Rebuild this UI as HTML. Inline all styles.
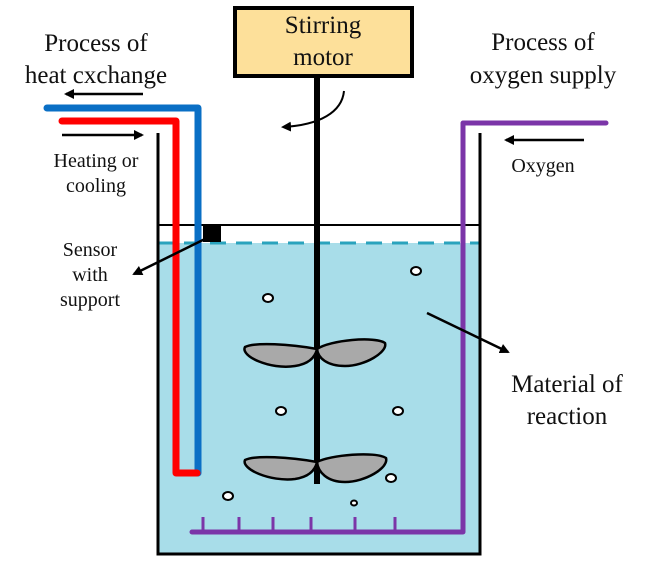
<!DOCTYPE html>
<html><head><meta charset="utf-8"><style>
html,body{margin:0;padding:0;background:#fff;}
svg{display:block;}
text{font-family:"Liberation Serif",serif;fill:#111;}
</style></head><body>
<svg width="647" height="564" viewBox="0 0 647 564" xmlns="http://www.w3.org/2000/svg">
<defs>
<marker id="ah" markerWidth="10" markerHeight="10" refX="8" refY="5" orient="auto" markerUnits="userSpaceOnUse">
<path d="M0,0 L10,5 L0,10 z" fill="#000"/></marker>
</defs>
<rect x="158" y="243" width="322" height="311" fill="#a8dde9"/>
<line x1="158" y1="243" x2="480" y2="243" stroke="#2aa3bd" stroke-width="3" stroke-dasharray="16,10"/>
<path d="M158,133 V554 H480 V133" fill="none" stroke="#000" stroke-width="3"/>
<line x1="158" y1="225" x2="480" y2="225" stroke="#000" stroke-width="2"/>
<path d="M47,108 H198 V473" fill="none" stroke="#0a6fc5" stroke-width="7" stroke-linecap="round" stroke-linejoin="round"/>
<path d="M62,121 H176 V473 H197" fill="none" stroke="#f00" stroke-width="7" stroke-linecap="round" stroke-linejoin="round"/>
<path d="M606,123 H463 V532 H192" fill="none" stroke="#7b35a8" stroke-width="5" stroke-linecap="round" stroke-linejoin="round"/>
<g stroke="#7b35a8" stroke-width="3">
<line x1="203" y1="517" x2="203" y2="532"/><line x1="239" y1="517" x2="239" y2="532"/><line x1="273" y1="517" x2="273" y2="532"/><line x1="311" y1="517" x2="311" y2="532"/><line x1="355" y1="517" x2="355" y2="532"/><line x1="395" y1="517" x2="395" y2="532"/>
</g>
<rect x="203" y="226" width="18" height="16" fill="#000"/>
<line x1="317" y1="77" x2="317" y2="484" stroke="#000" stroke-width="6"/>
<g fill="#a9a9a9" stroke="#000" stroke-width="2.5">
<path d="M317,349 C290,344 255,342 245,347 C240,356 270,370 295,366 C308,364 315,358 317,349 z"/>
<path d="M317,349 C330,340 375,336 385,343 C388,352 365,366 345,366 C327,366 318,358 317,349 z"/>
<path d="M317,462 C290,457 255,455 245,460 C241,469 270,482 295,479 C308,477 315,471 317,462 z"/>
<path d="M317,462 C330,455 375,451 386,458 C389,468 365,482 345,482 C327,482 318,472 317,462 z"/>
</g>
<g fill="#fff" stroke="#000" stroke-width="2">
<ellipse cx="268" cy="298" rx="5" ry="4"/><ellipse cx="416" cy="271" rx="5" ry="4"/>
<ellipse cx="281" cy="411" rx="5" ry="4"/><ellipse cx="398" cy="411" rx="5" ry="4"/>
<ellipse cx="391" cy="478" rx="5" ry="4"/><ellipse cx="228" cy="496" rx="5" ry="4"/>
<ellipse cx="354" cy="503" rx="3" ry="2.5"/>
</g>
<rect x="235" y="8" width="177" height="68" fill="#fde09a" stroke="#000" stroke-width="4"/>
<text x="323" y="33" font-size="25" text-anchor="middle">Stirring</text>
<text x="323" y="65" font-size="25" text-anchor="middle">motor</text>
<path d="M344,91 C342,112 320,125 283,127" fill="none" stroke="#000" stroke-width="2" marker-end="url(#ah)"/>
<line x1="143" y1="94" x2="66" y2="94" stroke="#000" stroke-width="2.5" marker-end="url(#ah)"/>
<line x1="62" y1="135" x2="142" y2="135" stroke="#000" stroke-width="2.5" marker-end="url(#ah)"/>
<line x1="584" y1="140" x2="506" y2="140" stroke="#000" stroke-width="2.5" marker-end="url(#ah)"/>
<line x1="207" y1="238" x2="134" y2="274" stroke="#000" stroke-width="2.5" marker-end="url(#ah)"/>
<line x1="427" y1="313" x2="508" y2="352" stroke="#000" stroke-width="2.5" marker-end="url(#ah)"/>
<text x="96" y="51" font-size="25" text-anchor="middle">Process of</text>
<text x="96" y="83" font-size="25" text-anchor="middle">heat cxchange</text>
<text x="96" y="167" font-size="20" text-anchor="middle">Heating or</text>
<text x="96" y="192" font-size="20" text-anchor="middle">cooling</text>
<text x="90" y="256" font-size="20" text-anchor="middle">Sensor</text>
<text x="90" y="281" font-size="20" text-anchor="middle">with</text>
<text x="90" y="306" font-size="20" text-anchor="middle">support</text>
<text x="543" y="50" font-size="25" text-anchor="middle">Process of</text>
<text x="543" y="83" font-size="25" text-anchor="middle">oxygen supply</text>
<text x="543" y="172" font-size="20" text-anchor="middle">Oxygen</text>
<text x="567" y="392" font-size="25" text-anchor="middle">Material of</text>
<text x="567" y="424" font-size="25" text-anchor="middle">reaction</text>
</svg>
</body></html>
